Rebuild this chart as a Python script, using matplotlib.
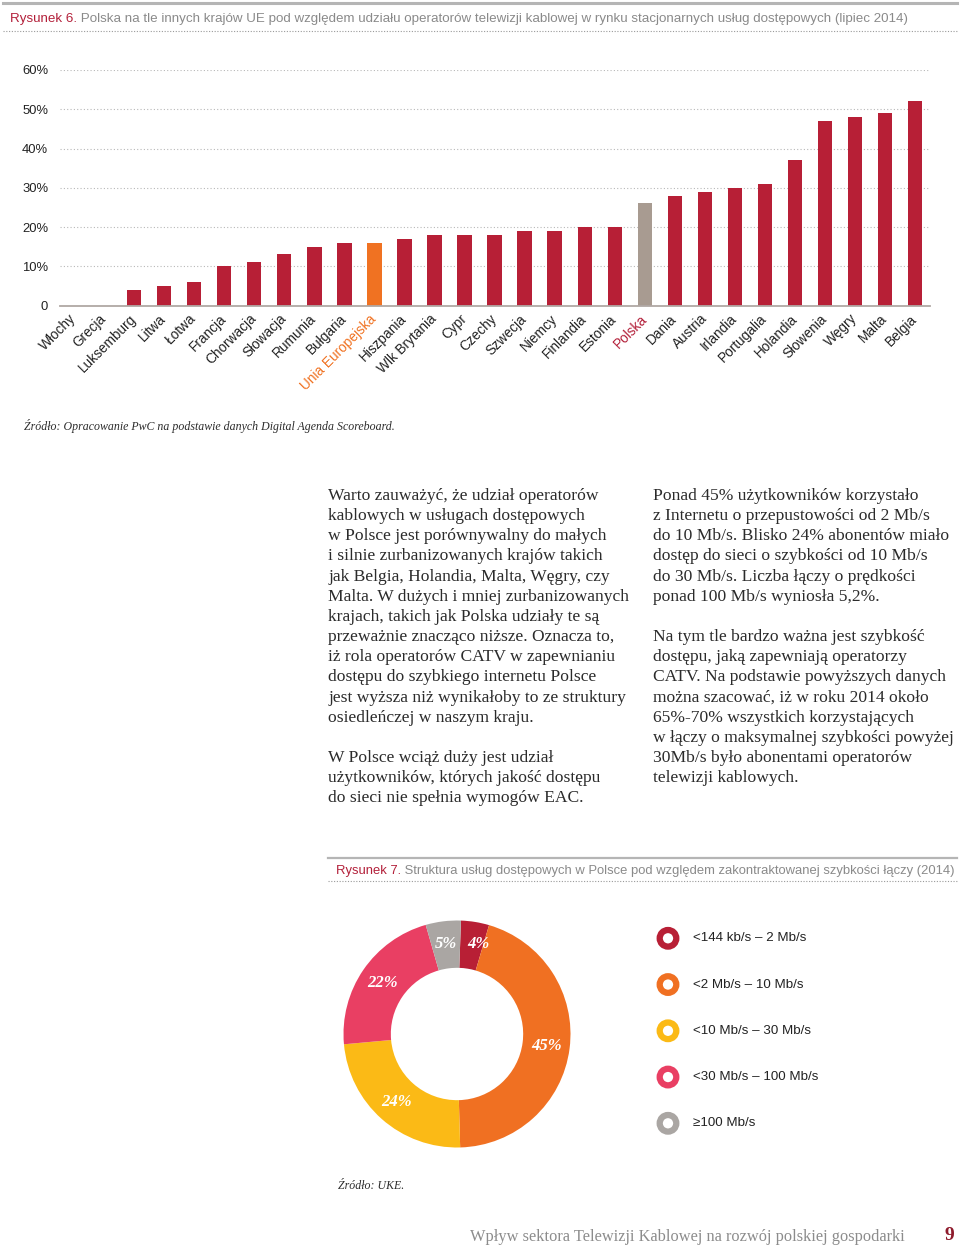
import matplotlib
matplotlib.use('Agg')
import matplotlib.pyplot as plt
from matplotlib.patches import Circle
from matplotlib.lines import Line2D

# ---------------- data ----------------
countries = ["Włochy", "Grecja", "Luksemburg", "Litwa", "Łotwa", "Francja", "Chorwacja",
             "Słowacja", "Rumunia", "Bułgaria", "Unia Europejska", "Hiszpania", "Wlk Brytania",
             "Cypr", "Czechy", "Szwecja", "Niemcy", "Finlandia", "Estonia", "Polska", "Dania",
             "Austria", "Irlandia", "Portugalia", "Holandia", "Słowenia", "Węgry", "Malta", "Belgia"]
cable_share = [0, 0, 4, 5, 6, 10, 11, 13, 15, 16, 16, 17, 18, 18, 18, 19, 19, 20, 20, 26,
               28, 29, 30, 31, 37, 47, 48, 49, 52]
y_ticks = [0, 10, 20, 30, 40, 50, 60]
y_tick_labels = ["0", "10%", "20%", "30%", "40%", "50%", "60%"]

speed_classes = ["<144 kb/s – 2 Mb/s", "<2 Mb/s – 10 Mb/s", "<10 Mb/s – 30 Mb/s",
                 "<30 Mb/s – 100 Mb/s", "≥100 Mb/s"]
speed_share = [4, 45, 24, 22, 5]

title6_a = "Rysunek 6."
title6_b = " Polska na tle innych krajów UE pod względem udziału operatorów telewizji kablowej w rynku stacjonarnych usług dostępowych (lipiec 2014)"
source6 = "Źródło: Opracowanie PwC na podstawie danych Digital Agenda Scoreboard."
title7_a = "Rysunek 7."
title7_b = " Struktura usług dostępowych w Polsce pod względem zakontraktowanej szybkości łączy (2014)"
source7 = "Źródło: UKE."
footer = "Wpływ sektora Telewizji Kablowej na rozwój polskiej gospodarki"
page_no = "9"

left_col = ["Warto zauważyć, że udział operatorów",
            "kablowych w usługach dostępowych",
            "w Polsce jest porównywalny do małych",
            "i silnie zurbanizowanych krajów takich",
            "jak Belgia, Holandia, Malta, Węgry, czy",
            "Malta. W dużych i mniej zurbanizowanych",
            "krajach, takich jak Polska udziały te są",
            "przeważnie znacząco niższe. Oznacza to,",
            "iż rola operatorów CATV w zapewnianiu",
            "dostępu do szybkiego internetu Polsce",
            "jest wyższa niż wynikałoby to ze struktury",
            "osiedleńczej w naszym kraju.",
            "",
            "W Polsce wciąż duży jest udział",
            "użytkowników, których jakość dostępu",
            "do sieci nie spełnia wymogów EAC."]
right_col = ["Ponad 45% użytkowników korzystało",
             "z Internetu o przepustowości od 2 Mb/s",
             "do 10 Mb/s. Blisko 24% abonentów miało",
             "dostęp do sieci o szybkości od 10 Mb/s",
             "do 30 Mb/s. Liczba łączy o prędkości",
             "ponad 100 Mb/s wyniosła 5,2%.",
             "",
             "Na tym tle bardzo ważna jest szybkość",
             "dostępu, jaką zapewniają operatorzy",
             "CATV. Na podstawie powyższych danych",
             "można szacować, iż w roku 2014 około",
             "65%-70% wszystkich korzystających",
             "w łączy o maksymalnej szybkości powyżej",
             "30Mb/s było abonentami operatorów",
             "telewizji kablowych."]

# ---------------- style ----------------
RED = "#b71f36"
ORANGE = "#f07222"
GREY_BAR = "#a89b91"
TITLE_RED = "#b3203a"
TITLE_GREY = "#8a8a8a"
TEXT = "#2b2b2b"
SANS = ["Liberation Sans", "DejaVu Sans"]
SERIF = ["Liberation Serif", "DejaVu Serif"]
donut_colors = ["#b81f35", "#f07022", "#fbba16", "#e93f63", "#aaa6a3"]

W, H = 960, 1251
fig = plt.figure(figsize=(W / 100, H / 100), dpi=100)
fig.patch.set_facecolor("white")

bg = fig.add_axes([0, 0, 1, 1])
bg.set_xlim(0, W)
bg.set_ylim(H, 0)
bg.axis("off")

renderer = fig.canvas.get_renderer()


def two_tone(x, y, a, b, size):
    t1 = bg.text(x, y, a, color=TITLE_RED, fontsize=size, family=SANS, va="baseline", ha="left")
    bb = t1.get_window_extent(renderer=renderer)
    inv = bg.transData.inverted()
    x2 = inv.transform((bb.x1, bb.y0))[0]
    bg.text(x2, y, b, color=TITLE_GREY, fontsize=size, family=SANS, va="baseline", ha="left")


# --- figure 6 header ---
bg.add_line(Line2D([3, 957], [3, 3], color="#b5b5b5", lw=2.2))
two_tone(10, 22, title6_a, title6_b, 9.65)
bg.add_line(Line2D([3, 957], [31, 31], color="#9a9a9a", lw=0.8, ls=(0, (1, 1.5))))

# --- bar chart ---
ax = fig.add_axes([60 / W, 1 - 305.5 / H, 870 / W, 235.5 / H])
xpos = list(range(len(countries)))
colors = [RED] * len(countries)
colors[countries.index("Unia Europejska")] = ORANGE
colors[countries.index("Polska")] = GREY_BAR
ax.bar(xpos, cable_share, width=0.48, color=colors, zorder=2)
ax.set_xlim(-0.463, len(countries) - 0.51)
ax.set_ylim(0, 60)
ax.set_yticks(y_ticks)
ax.set_yticklabels(y_tick_labels, fontsize=9.4, family=SANS, color="#222222")
ax.set_xticks(xpos)
ax.set_xticklabels(countries, rotation=45, ha="right", va="center", rotation_mode="anchor",
                   fontsize=9.8, family=SANS, color="#222222")
for lab in ax.get_xticklabels():
    if lab.get_text() == "Unia Europejska":
        lab.set_color(ORANGE)
    elif lab.get_text() == "Polska":
        lab.set_color(TITLE_RED)
ax.tick_params(axis="both", length=0)
ax.tick_params(axis="y", pad=8.5)
ax.tick_params(axis="x", pad=8)
ax.set_axisbelow(True)
ax.yaxis.grid(True, color="#b8b8b8", lw=0.8, ls=(0, (1, 2)))
for s in ["top", "right", "left"]:
    ax.spines[s].set_visible(False)
ax.spines["bottom"].set_color("#b0a8a4")
ax.spines["bottom"].set_linewidth(1.3)
ax.spines["bottom"].set_zorder(3)
ax.set_facecolor("none")

bg.text(24, 426, source6, fontsize=8.6, family=SERIF, style="italic", color=TEXT,
        va="center", ha="left")

# --- paragraphs ---
for i, line in enumerate(left_col):
    bg.text(328, 496 + 20.15 * i, line, fontsize=12.6, family=SERIF, color=TEXT,
            va="center", ha="left")
for i, line in enumerate(right_col):
    bg.text(653, 496 + 20.15 * i, line, fontsize=12.6, family=SERIF, color=TEXT,
            va="center", ha="left")

# --- figure 7 header ---
bg.add_line(Line2D([328, 957], [858, 858], color="#b5b5b5", lw=1.6))
two_tone(336, 874, title7_a, title7_b, 9.35)
bg.add_line(Line2D([328, 957], [881, 881], color="#9a9a9a", lw=0.8, ls=(0, (1, 1.5))))

# --- donut ---
cx, cy, r = 457, 1034, 113.5
dax = fig.add_axes([(cx - r) / W, 1 - (cy + r) / H, 2 * r / W, 2 * r / H])
wedges, texts, autotexts = dax.pie(
    speed_share, colors=donut_colors, startangle=88, counterclock=False,
    wedgeprops=dict(width=0.417, edgecolor="none"), autopct="%.0f%%", pctdistance=0.8,
    textprops=dict(color="white", fontsize=12, family=SERIF, fontweight="bold", style="italic"))
x0, y0 = autotexts[0].get_position()
autotexts[0].set_position((x0 + 0.06, y0))
dax.set_xlim(-1, 1)
dax.set_ylim(-1, 1)
dax.set_aspect("equal")

# --- legend ---
for i, (lab, col) in enumerate(zip(speed_classes, donut_colors)):
    yy = 938.3 + 46.25 * i
    bg.add_patch(Circle((668, yy), 8.3, facecolor="white", edgecolor=col, lw=4.5))
    bg.text(693, yy, lab, fontsize=9.6, family=SANS, color="#222222", va="center", ha="left")

bg.text(338, 1186, source7, fontsize=8.6, family=SERIF, style="italic", color=TEXT,
        va="center", ha="left")

# --- footer ---
bg.text(905, 1237, footer, fontsize=11.8, family=SERIF, color="#8c8c8c", va="center", ha="right")
bg.text(949, 1235, page_no, fontsize=14, family=SERIF, fontweight="bold", color="#8e1b2c",
        va="center", ha="center")

fig.savefig("out.png", dpi=100, facecolor="white")
